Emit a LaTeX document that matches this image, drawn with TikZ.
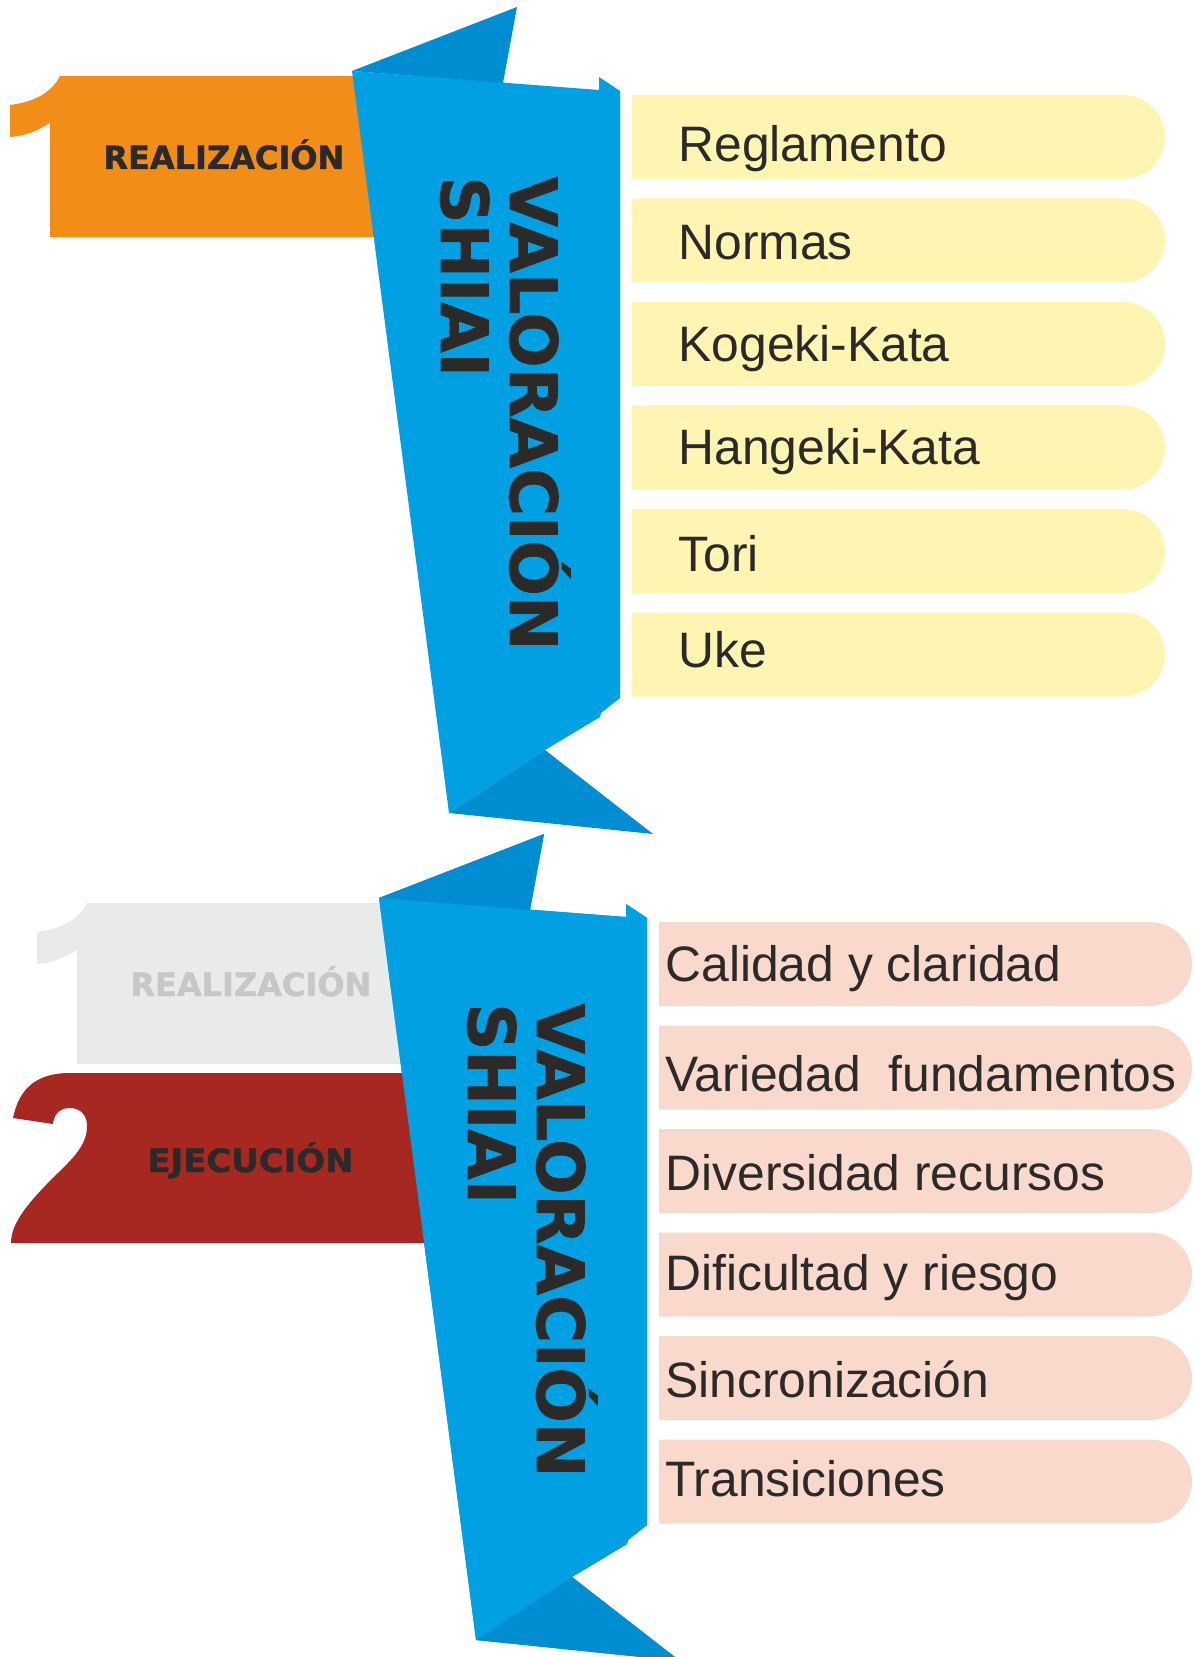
\documentclass[tikz,border=0pt]{standalone}
\usepackage{fontspec}
\setmainfont{Liberation Sans}
\newfontfamily\heavyfont{DejaVu Sans}[BoldFeatures={FakeBold=1.3}]
\definecolor{ribbonlight}{RGB}{0,160,226}
\definecolor{ribbondark}{RGB}{0,141,210}
\definecolor{orangeone}{RGB}{242,141,23}
\definecolor{grayone}{RGB}{233,234,234}
\definecolor{graytext}{RGB}{198,199,199}
\definecolor{redtwo}{RGB}{166,40,33}
\definecolor{textdark}{RGB}{43,42,41}
\definecolor{boxyellow}{RGB}{255,245,178}
\definecolor{boxsalmon}{RGB}{249,217,204}
\def\numberone#1{\fill[#1] (60,76) -- (385,76) -- (385,237) -- (50,237) -- (50,123) .. controls (37,131) and (25,136) .. (10,137) -- (10,105) .. controls (35,102) and (52,92) .. (60,76) -- cycle;}
\def\shiairibbon{%
	\fill[ribbonlight] (352,71) -- (599,90) -- (599,77) -- (620,91) -- (620,698) -- (601,713) -- (600,717) -- (545,750) -- (449,813) -- cycle;
	\fill[ribbondark] (352,71) -- (517,7) -- (503,83) -- cycle;
	\fill[ribbondark] (449,813) -- (545,750) -- (653,834) -- cycle;}
\def\pillbox#1#2#3#4{\fill[#1] (#2,#3) -- (#4-42,#3) arc (-90:90:42) -- (#2,#3+84) -- cycle;}

\begin{document}
\begin{tikzpicture}[x=0.5pt,y=-0.5pt,
	ribbontext/.style={font=\heavyfont\bfseries\fontsize{32.6}{36}\selectfont, text=textdark, inner sep=0pt, rotate=-90, anchor=base west},
	labeltext/.style={font=\heavyfont\bfseries\fontsize{16}{19}\selectfont, inner sep=0pt, anchor=base west},
	itemtext/.style={font=\fontsize{24.9}{29}\selectfont, text=textdark, inner sep=0pt, anchor=base west}]
			%%%%% START %%%%%
			\useasboundingbox (0,0) rectangle (1195,1657);
			
			% first block
			\numberone{orangeone}
			\node[labeltext, text=textdark] (realizacion-1) at (103,169) {REALIZACIÓN};
			\shiairibbon
			\node[ribbontext] (valoracion-1) at (510,176) {VALORACIÓN};
			\node[ribbontext] (shiai-1) at (441,176) {SHIAI};
			
			\foreach \txt/\dy [count=\i] in {Reglamento/7, Normas/2, Kogeki-Kata/0, Hangeki-Kata/0, Tori/3, Uke/-5}{
				\pgfmathsetmacro\ytop{95+(\i-1)*103.5}
				\pillbox{boxyellow}{632}{\ytop}{1165}
				\node[itemtext] (item-1-\i) at (678,\ytop+42+\dy+17.5) {\txt};
			}
			
			% second block
			\begin{scope}[shift={(27,827)}]
				\numberone{grayone}
				\shiairibbon
			\end{scope}
			\node[labeltext, text=graytext] (realizacion-2) at (130,996) {REALIZACIÓN};
			
			\fill[redtwo] (70,1073) -- (430,1073) -- (430,1243) -- (11,1243)
				.. controls (11,1225) and (25,1207) .. (45,1186)
				.. controls (65,1165) and (86,1150) .. (87,1128)
				.. controls (88,1115) and (80,1108) .. (70,1108)
				.. controls (62,1108) and (54,1112) .. (53,1124)
				-- (13,1118) .. controls (18,1095) and (30,1073) .. (70,1073) -- cycle;
			\node[labeltext, text=textdark] (ejecucion) at (147,1172) {\scalebox{1.06}[1]{EJECUCIÓN}};
			
			\begin{scope}[shift={(27,827)}]
				\shiairibbon
			\end{scope}
			\node[ribbontext] (valoracion-2) at (537,1003) {VALORACIÓN};
			\node[ribbontext] (shiai-2) at (468,1003) {SHIAI};
			
			\foreach \txt/\dy [count=\i] in {Calidad y claridad/0, Variedad\ \ fundamentos/6, Diversidad recursos/2, Dificultad y riesgo/-2, Sincronización/2, Transiciones/-3}{
				\pgfmathsetmacro\ytop{922+(\i-1)*103.5}
				\pillbox{boxsalmon}{659}{\ytop}{1192}
				\node[itemtext] (item-2-\i) at (665,\ytop+42+\dy+17.5) {\txt};
			}
			
			%%%%% END %%%%%
\end{tikzpicture}
\end{document}
